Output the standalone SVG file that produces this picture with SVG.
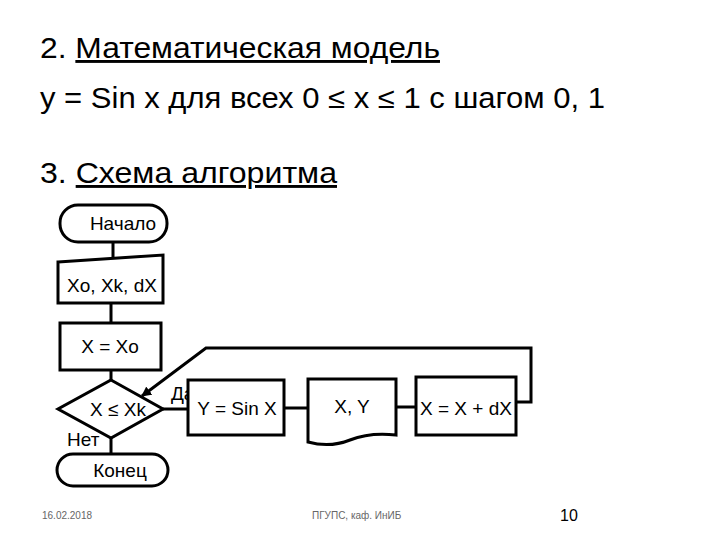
<svg xmlns="http://www.w3.org/2000/svg" width="720" height="540" viewBox="0 0 720 540">
<style>
.t{font-family:"Liberation Sans",Arial,sans-serif;fill:#000}
.h{font-size:29px}
.n{font-size:19px}
.s{stroke:#000;stroke-width:3;fill:#fff}
.c{stroke:#000;stroke-width:3;fill:none}
</style>
<defs><marker id="a" markerWidth="10" markerHeight="10" refX="9" refY="5" orient="auto" markerUnits="userSpaceOnUse"><path d="M0,0 L10,5 L0,10 z" fill="#000"/></marker></defs>
<rect width="720" height="540" fill="#fff"/>
<text class="t h" x="40" y="58" textLength="400" lengthAdjust="spacingAndGlyphs">2. <tspan text-decoration="underline">Математическая модель</tspan></text>
<text class="t h" x="40" y="108" textLength="565" lengthAdjust="spacingAndGlyphs">y = Sin x для всех  0 ≤ x ≤ 1 с шагом 0, 1</text>
<text class="t h" x="40" y="183" textLength="297" lengthAdjust="spacingAndGlyphs">3. <tspan text-decoration="underline">Схема алгоритма</tspan></text>
<g id="connectors">
<path class="c" d="M113 242V259M111 303V323M111 370V380M111 438V454M163 409H188M284 408H308M396 407H416"/>
<path class="c" d="M516 402H531V348H206L142 396" marker-end="url(#a)"/>
</g>
<g id="start"><rect class="s" x="60" y="205" width="107" height="37" rx="18"/><text class="t n" x="123" y="230" text-anchor="middle">Начало</text></g>
<g id="input"><path class="s" d="M58 262L163 255V303H58Z"/><text class="t n" x="112" y="292" text-anchor="middle">Xo, Xk, dX</text></g>
<g id="init"><rect class="s" x="60" y="323" width="101" height="47"/><text class="t n" x="110" y="353" text-anchor="middle">X = Xo</text></g>
<g id="cond"><path class="s" d="M111 380L163 409L111 438L58 409Z"/><text class="t n" x="118" y="416" text-anchor="middle">X ≤ Xk</text></g>
<text class="t n" x="171" y="400">Да</text>
<text class="t n" x="67" y="446">Нет</text>
<g id="calc"><rect class="s" x="188" y="380" width="96" height="55"/><text class="t n" x="237" y="415" text-anchor="middle">Y = Sin X</text></g>
<g id="output"><path class="s" d="M308 379H396V435Q370 432 350 440Q330 448 308 442Z"/><text class="t n" x="352" y="413" text-anchor="middle">X, Y</text></g>
<g id="step"><rect class="s" x="416" y="377" width="100" height="58"/><text class="t n" x="466" y="415" text-anchor="middle">X = X + dX</text></g>
<g id="end"><rect class="s" x="57" y="454" width="111" height="32" rx="16"/><text class="t n" x="120" y="477" text-anchor="middle">Конец</text></g>
<text class="t" x="42" y="519" font-size="10" style="fill:#666">16.02.2018</text>
<text class="t" x="312" y="519" font-size="10" style="fill:#666">ПГУПС, каф. ИнИБ</text>
<text class="t" x="560" y="521" font-size="16">10</text>
</svg>
